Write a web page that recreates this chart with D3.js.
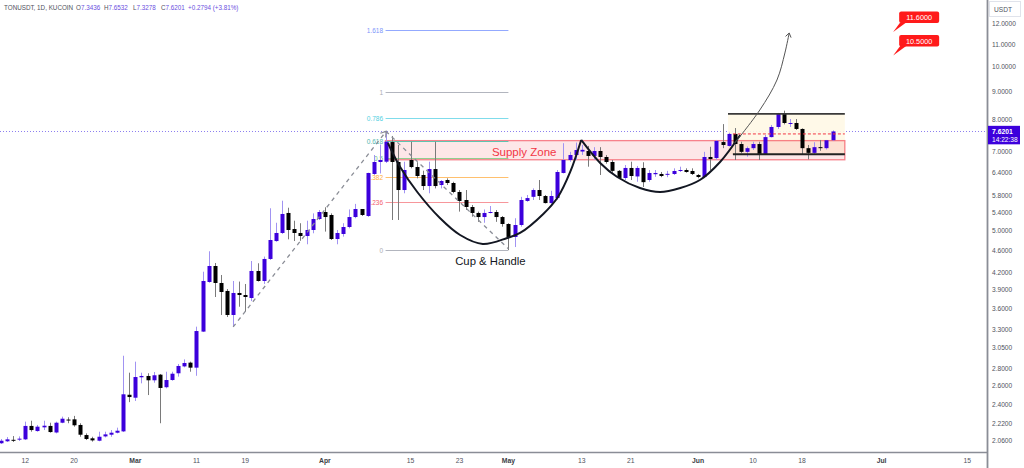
<!DOCTYPE html>
<html><head><meta charset="utf-8">
<script src="https://cdn.jsdelivr.net/npm/d3@7"></script>
<style>
html,body{margin:0;padding:0;background:#fff;}
svg{display:block;font-family:"Liberation Sans",Arial,sans-serif;}
</style></head><body>
<svg id="chart" width="1024" height="468"></svg>
<script>
// ---------------- DATA ----------------
const symbol = "TONUSDT, 1D, KUCOIN";
const startDay = Date.UTC(2024, 1, 8); // first daily candle: 8 Feb 2024
const opens  = [2.040,2.057,2.070,2.075,2.074,2.195,2.148,2.182,2.195,2.135,2.225,2.255,2.257,2.204,2.112,2.083,2.062,2.100,2.115,2.133,
  2.145,2.504,2.473,2.696,2.711,2.662,2.726,2.585,2.665,2.742,2.823,2.868,2.808,3.270,4.033,4.315,4.016,3.883,3.508,3.850,
  3.817,3.769,4.225,4.050,4.445,4.795,4.961,5.399,5.045,4.961,4.898,5.024,5.263,5.421,5.353,4.836,4.940,5.088,5.307,5.490,
  5.330,6.366,6.697,6.705,7.286,6.697,5.949,6.754,6.556,6.339,6.050,6.500,6.076,6.206,6.128,5.900,5.703,5.537,5.399,5.307,
  5.400,5.421,5.307,5.153,4.878,5.131,5.680,5.780,5.949,5.800,5.630,5.750,6.393,6.754,6.898,7.000,7.016,6.870,7.016,6.840,
  6.697,6.450,6.259,6.530,6.300,6.530,6.206,6.360,6.366,6.350,6.366,6.447,6.474,6.447,6.339,6.285,6.840,6.810,7.286,7.167,
  7.540,7.225,6.990,7.100,7.225,6.930,7.440,7.765,8.204,7.864,7.897,7.700,7.100,6.960,7.130,7.100,7.3436];
const highs  = [2.077,2.094,2.103,2.100,2.235,2.244,2.204,2.244,2.225,2.235,2.283,2.277,2.290,2.220,2.127,2.097,2.142,2.142,2.157,2.179,
  2.953,2.749,2.880,2.749,2.742,2.757,2.734,2.760,2.760,2.852,2.908,2.880,3.339,4.212,4.592,4.370,4.154,3.915,4.050,4.040,
  3.999,4.407,4.365,4.490,5.507,5.180,5.686,5.520,5.225,5.170,5.225,5.390,5.467,5.530,5.390,5.024,5.170,5.480,5.610,5.490,
  6.400,6.898,7.210,7.620,7.475,7.196,6.705,7.296,6.690,6.455,6.705,7.296,6.206,6.250,6.160,5.949,5.949,5.584,5.430,5.480,
  5.560,5.467,5.330,5.170,5.280,5.780,5.825,5.990,6.206,5.825,5.930,6.474,7.250,6.990,7.270,7.200,7.167,7.130,7.130,6.898,
  6.754,6.474,6.612,6.705,6.585,6.690,6.474,6.474,6.420,6.450,6.520,6.565,6.520,6.520,6.366,6.990,7.142,7.350,7.860,7.580,
  7.730,7.296,7.150,7.296,7.296,7.507,7.831,8.240,8.319,8.030,8.030,7.720,7.196,7.280,7.350,7.350,7.6532];
const lows   = [2.034,2.051,2.051,2.060,2.068,2.142,2.142,2.157,2.133,2.127,2.220,2.220,2.188,2.097,2.068,2.054,2.057,2.091,2.097,2.127,
  2.139,2.427,2.439,2.628,2.501,2.635,2.220,2.573,2.657,2.703,2.812,2.760,2.713,3.264,4.020,3.785,3.508,3.478,3.335,3.633,
  3.557,3.720,4.040,4.000,4.426,4.780,4.940,4.830,4.795,4.800,4.730,4.955,5.241,4.990,4.816,4.730,4.885,5.060,5.280,5.330,
  5.310,6.339,6.380,6.670,5.241,5.241,5.867,6.520,6.250,5.949,5.867,5.990,5.990,6.076,5.867,5.430,5.467,5.315,5.200,5.180,
  5.390,5.200,5.095,4.617,4.675,5.095,5.660,5.703,5.703,5.620,5.584,5.703,6.380,6.705,6.754,6.900,6.565,6.754,6.339,6.650,
  6.400,6.250,6.206,6.206,6.160,6.025,6.160,6.290,6.280,6.280,6.339,6.420,6.400,6.339,6.250,6.280,6.474,6.754,7.100,7.150,
  6.754,6.950,6.850,7.045,6.754,6.898,7.430,7.700,7.850,7.765,7.667,6.898,6.770,6.898,7.020,7.060,7.3278];
const closes = [2.062,2.074,2.068,2.080,2.195,2.157,2.188,2.197,2.139,2.225,2.263,2.251,2.201,2.115,2.077,2.065,2.097,2.118,2.133,2.151,
  2.509,2.480,2.699,2.711,2.662,2.719,2.577,2.665,2.737,2.828,2.864,2.808,3.278,4.050,4.315,4.016,3.866,3.508,3.850,3.817,
  3.785,4.225,4.050,4.445,4.816,4.961,5.376,5.024,4.961,4.898,5.024,5.263,5.421,5.307,4.836,4.961,5.088,5.307,5.490,5.353,
  6.393,6.697,6.754,7.296,6.697,5.949,6.474,6.556,6.312,6.050,6.500,6.050,6.180,6.128,5.900,5.680,5.537,5.399,5.307,5.399,
  5.421,5.307,5.153,4.878,5.131,5.703,5.750,5.949,5.800,5.630,5.800,6.420,6.754,6.898,7.045,7.050,6.870,7.016,6.840,6.697,
  6.450,6.260,6.530,6.312,6.530,6.150,6.393,6.393,6.312,6.370,6.447,6.474,6.420,6.366,6.285,6.840,6.780,7.320,7.196,7.540,
  7.225,6.990,7.100,7.225,6.930,7.440,7.765,8.204,7.897,7.897,7.700,7.100,6.960,7.130,7.100,7.3407,7.6201];

const priceTicks = [12, 11, 10, 9, 8, 7, 6.4, 5.8, 5.4, 5, 4.6, 4.2, 3.9, 3.6, 3.3, 3.05, 2.8, 2.6, 2.4, 2.22, 2.06];
const dateTicks = ["2024-02-12","2024-02-20","2024-03-01","2024-03-11","2024-03-19","2024-04-01","2024-04-15","2024-04-23",
  "2024-05-01","2024-05-13","2024-05-21","2024-06-01","2024-06-10","2024-06-18","2024-07-01","2024-07-15"];
const dateTickLabels = ["12","20","Mar","11","19","Apr","15","23","May","13","21","Jun","10","18","Jul","15"];

// Fibonacci retracement (anchors in candle index / price)
const fibLevels = [0, 0.236, 0.382, 0.5, 0.618, 0.786, 1, 1.618];
const fibLabels = ["0", "0.236", "0.382", "0.5", "0.618", "0.786", "1", "1.618"];
const fibColors = ["#b2b5be", "#f7969b", "#ffc06e", "#8fcf91", "#5fc4b0", "#7fdceb", "#b2b5be", "#93a9ff"];
const fibTextColors = ["#9598a1", "#f23645", "#ff9800", "#4caf50", "#26a69a", "#26c6da", "#9598a1", "#5b7cfa"];
const fibPriceLow = 4.617, fibPriceHigh = 9.0;
const fibFromIdx = 63, fibToIdx = 83;

// zones and lines (index ranges / prices)
const supplyZone = {from: 62.9, to: 138, top: 7.33, bottom: 6.76};
const rangeBox = {from: 118.9, to: 138, top: 8.204, bottom: 6.92};
const rangeBottomLine = {from: 119.7, to: 138, price: 6.92};
const rangeMidDashed = {from: 119.7, to: 138, price: 7.54};

// dashed swing path
const swingIdx = [38, 63, 83];
const swingPx  = [3.335, 7.62, 4.64];

// cup & handle curves
const cup1Idx = [63.3, 65.3, 68.1, 71.8, 75.1, 78.8, 82.8, 84.9, 88.7, 91.1, 93.1, 94.9];
const cup1Px  = [7.257, 6.556, 5.899, 5.285, 4.919, 4.735, 4.857, 4.961, 5.376, 5.776, 6.420, 7.350];
const cup2Idx = [94.9, 98.0, 100.8, 104.5, 107.8, 111.1, 114.3, 117.6, 120.9];
const cup2Px  = [7.35, 6.67, 6.285, 5.999, 5.899, 5.999, 6.206, 6.697, 7.507];
const arrowIdx = [120.0, 124.1, 126.9, 128.2, 128.9];
const arrowPx  = [7.257, 8.343, 9.47, 10.616, 11.552];

// target callouts
const targetPrices = [11.6, 10.5];
const targetIdx = 145.9;

const clockText = "14:22:38";

// ---------------- CHART ----------------
const W = 1024, H = 468, plotR = 987, plotB = 452;
const day = 864e5;
const dateAt = i => new Date(startDay + i * day);
const svg = d3.select("#chart");

const x = d3.scaleUtc()
  .domain([new Date(startDay - 0.1144 * day), new Date(startDay + 161.24 * day)])
  .range([0, plotR]);
const y = d3.scaleLog().domain([1.966, 13.28]).range([plotB, 0]);
const xi = i => x(dateAt(i));

svg.append("rect").attr("width", W).attr("height", H).attr("fill", "#fff");

svg.append("defs").append("clipPath").attr("id", "plotclip")
  .append("rect").attr("x", 0).attr("y", 0).attr("width", plotR).attr("height", plotB);
const plot = svg.append("g").attr("clip-path", "url(#plotclip)");

// current price dotted line
const lastClose = closes[closes.length - 1];
plot.append("line").attr("x1", 0).attr("x2", plotR)
  .attr("y1", Math.round(y(lastClose)) + 0.5).attr("y2", Math.round(y(lastClose)) + 0.5)
  .attr("stroke", "#8d7ff0").attr("stroke-width", 1).attr("stroke-dasharray", "1,2");

// range box (cream)
plot.append("rect")
  .attr("x", xi(rangeBox.from)).attr("width", xi(rangeBox.to) - xi(rangeBox.from))
  .attr("y", y(rangeBox.top)).attr("height", y(rangeBox.bottom) - y(rangeBox.top))
  .attr("fill", "#fff8e6").attr("opacity", 0.9);

// supply zone
plot.append("rect")
  .attr("x", xi(supplyZone.from)).attr("width", xi(supplyZone.to) - xi(supplyZone.from))
  .attr("y", y(supplyZone.top)).attr("height", y(supplyZone.bottom) - y(supplyZone.top))
  .attr("fill", "rgba(242,54,69,0.12)").attr("stroke", "rgba(242,54,69,0.6)").attr("stroke-width", 1.3);

// fib levels
const fibPrice = f => fibPriceLow + f * (fibPriceHigh - fibPriceLow);
fibLevels.forEach((f, k) => {
  const yy = Math.round(y(fibPrice(f))) + 0.5;
  plot.append("line").attr("x1", xi(fibFromIdx) - 0.5).attr("x2", xi(fibToIdx))
    .attr("y1", yy).attr("y2", yy).attr("stroke", fibColors[k]).attr("stroke-width", 1.2);
  plot.append("text").attr("x", xi(fibFromIdx) - 3).attr("y", yy + 2.3)
    .attr("text-anchor", "end").attr("font-size", 6.5).attr("fill", fibTextColors[k])
    .attr("opacity", 0.8).text(fibLabels[k]);
});

// candles
const n = closes.length;
const cg = plot.append("g");
for (let i = 0; i < n; i++) {
  const cx = Math.round(xi(i));
  const up = closes[i] >= opens[i];
  cg.append("line").attr("x1", cx + 0.5).attr("x2", cx + 0.5)
    .attr("y1", y(highs[i])).attr("y2", y(lows[i]))
    .attr("stroke", up ? "#a193f2" : "#7a7a7a").attr("stroke-width", 1);
  const top = y(Math.max(opens[i], closes[i])), bot = y(Math.min(opens[i], closes[i]));
  cg.append("rect").attr("x", cx - 1.5).attr("width", 4)
    .attr("y", top).attr("height", Math.max(1, bot - top))
    .attr("fill", up ? "#3c00dc" : "#000");
}

// range lines
plot.append("line").attr("x1", xi(rangeBox.from)).attr("x2", xi(rangeBox.to))
  .attr("y1", y(rangeBox.top)).attr("y2", y(rangeBox.top))
  .attr("stroke", "#3a3a3a").attr("stroke-width", 1.8);
plot.append("line").attr("x1", xi(rangeBottomLine.from)).attr("x2", xi(rangeBottomLine.to))
  .attr("y1", y(rangeBottomLine.price)).attr("y2", y(rangeBottomLine.price))
  .attr("stroke", "#222").attr("stroke-width", 1.8);
plot.append("line").attr("x1", xi(rangeMidDashed.from)).attr("x2", xi(rangeMidDashed.to))
  .attr("y1", y(rangeMidDashed.price)).attr("y2", y(rangeMidDashed.price))
  .attr("stroke", "#f23645").attr("stroke-width", 1).attr("stroke-dasharray", "3,2");

// dashed swing path
const swingPts = swingIdx.map((d, k) => [xi(d), y(swingPx[k])]);
plot.append("path").attr("d", d3.line()(swingPts)).attr("fill", "none")
  .attr("stroke", "#8a8d96").attr("stroke-width", 1.3).attr("stroke-dasharray", "4,4");

function chevron(g, p0, p1, len, color, sw) {
  const ang = Math.atan2(p1[1] - p0[1], p1[0] - p0[0]);
  const a1 = ang + Math.PI - 0.6, a2 = ang + Math.PI + 0.6;
  g.append("path").attr("d",
    `M${p1[0] + len * Math.cos(a1)},${p1[1] + len * Math.sin(a1)}L${p1[0]},${p1[1]}L${p1[0] + len * Math.cos(a2)},${p1[1] + len * Math.sin(a2)}`)
    .attr("fill", "none").attr("stroke", color).attr("stroke-width", sw);
}
chevron(plot, swingPts[0], swingPts[1], 6, "#8a8d96", 1.2);

// cup curves
const curve = d3.line().curve(d3.curveCatmullRom.alpha(0.5));
plot.append("path").attr("d", curve(cup1Idx.map((d, k) => [xi(d), y(cup1Px[k])])))
  .attr("fill", "none").attr("stroke", "#131722").attr("stroke-width", 2);
plot.append("path").attr("d", curve(cup2Idx.map((d, k) => [xi(d), y(cup2Px[k])])))
  .attr("fill", "none").attr("stroke", "#131722").attr("stroke-width", 2);
const arrowPts = arrowIdx.map((d, k) => [xi(d), y(arrowPx[k])]);
plot.append("path").attr("d", curve(arrowPts))
  .attr("fill", "none").attr("stroke", "#555").attr("stroke-width", 1);
chevron(plot, arrowPts[arrowPts.length - 2], arrowPts[arrowPts.length - 1], 5, "#555", 1);

// texts
plot.append("text").attr("x", xi(80.3)).attr("y", y(6.86))
  .attr("font-size", 11.5).attr("fill", "#f23645").text("Supply Zone");
plot.append("text").attr("x", xi(74.3)).attr("y", y(4.33))
  .attr("font-size", 11.3).attr("fill", "#131722").text("Cup & Handle");

// target callouts
targetPrices.forEach(p => {
  const ax = xi(targetIdx), ay = y(p);
  plot.append("path").attr("d", `M${ax},${ay}L${ax + 7},${ay - 9.5}L${ax + 13},${ay - 9.5}Z`).attr("fill", "#ff1a1a");
  plot.append("rect").attr("x", ax + 6).attr("y", ay - 20.5).attr("width", 40).attr("height", 11.5)
    .attr("rx", 2).attr("fill", "#ff1a1a");
  plot.append("text").attr("x", ax + 26).attr("y", ay - 12).attr("text-anchor", "middle")
    .attr("font-size", 7.3).attr("fill", "#fff").text(p.toFixed(4));
});

// axes lines
svg.append("line").attr("x1", 0).attr("x2", plotR).attr("y1", plotB + 0.5).attr("y2", plotB + 0.5)
  .attr("stroke", "#8a8d96").attr("stroke-width", 1.5);
svg.append("line").attr("x1", plotR + 0.5).attr("x2", plotR + 0.5).attr("y1", 0).attr("y2", H)
  .attr("stroke", "#8a8d96").attr("stroke-width", 1.8);

// price axis labels
const yAxis = svg.append("g");
priceTicks.forEach(t => {
  yAxis.append("text").attr("x", 992).attr("y", y(t) + 2.3)
    .attr("font-size", 6.6).attr("fill", "#50535e").text(t.toFixed(4));
});
svg.append("rect").attr("x", 989.5).attr("y", 1.5).attr("width", 31).attr("height", 15)
  .attr("fill", "#fff").attr("stroke", "#e0e3eb").attr("stroke-width", 1);
svg.append("text").attr("x", 994).attr("y", 11.5).attr("font-size", 6.6).attr("fill", "#50535e").text("USDT");

// current price tag
const cy = y(lastClose);
svg.append("rect").attr("x", 988).attr("y", cy - 5.6).attr("width", 32).attr("height", 18.5).attr("fill", "#3c00dc");
svg.append("text").attr("x", 992).attr("y", cy + 2.3).attr("font-size", 6.8).attr("font-weight", "bold")
  .attr("fill", "#fff").text(lastClose.toFixed(4));
svg.append("text").attr("x", 992).attr("y", cy + 10.6).attr("font-size", 6.6)
  .attr("fill", "#fff").text(clockText);

// time axis labels
dateTicks.forEach((d, k) => {
  const lab = dateTickLabels[k];
  const isMonth = isNaN(+lab);
  svg.append("text").attr("x", x(new Date(d + "T00:00:00Z"))).attr("y", 463)
    .attr("text-anchor", "middle").attr("font-size", 6.8)
    .attr("font-weight", isMonth ? "bold" : "normal")
    .attr("fill", isMonth ? "#3a3d45" : "#50535e").text(lab);
});

// header legend
const o = opens[n - 1], h = highs[n - 1], l = lows[n - 1], c = closes[n - 1];
const chg = c - closes[n - 2], pct = chg / closes[n - 2] * 100;
const hdr = svg.append("text").attr("y", 10.2).attr("font-size", 6.3);
hdr.append("tspan").attr("x", 4).attr("fill", "#50535e").text(symbol);
[["O", o, 76], ["H", h, 104], ["L", l, 133], ["C", c, 161]].forEach(([k, v, px]) => {
  hdr.append("tspan").attr("x", px).attr("fill", "#50535e").text(k);
  hdr.append("tspan").attr("fill", "#6a4fe0").text(v.toFixed(4));
});
hdr.append("tspan").attr("x", 188).attr("fill", "#6a4fe0")
  .text((chg >= 0 ? "+" : "") + chg.toFixed(4) + " (" + (pct >= 0 ? "+" : "") + pct.toFixed(2) + "%)");
</script>
</body></html>
